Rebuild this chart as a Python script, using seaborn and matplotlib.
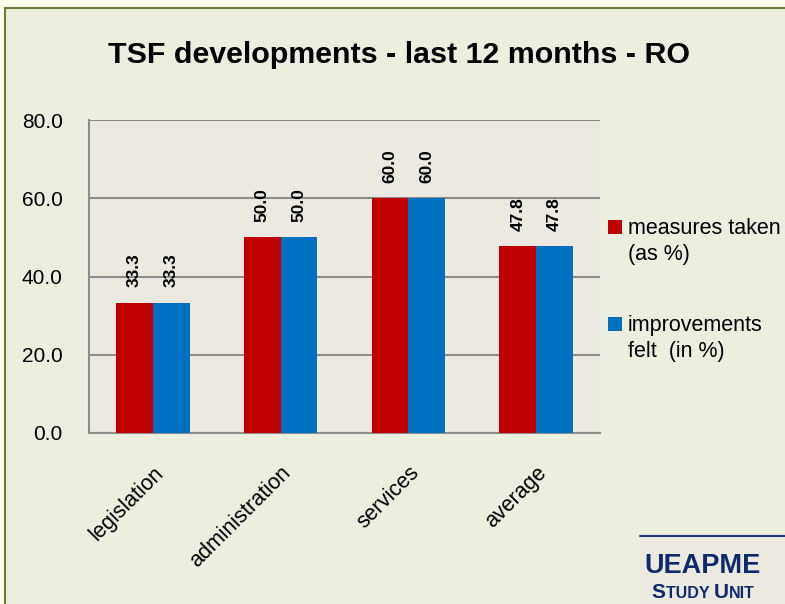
import matplotlib
matplotlib.use("Agg")
import matplotlib.pyplot as plt
import matplotlib.patches as mpatches
import pandas as pd
import seaborn as sns

categories = ["legislation", "administration", "services", "average"]
measures_taken = [33.3, 50.0, 60.0, 47.8]
improvements_felt = [33.3, 50.0, 60.0, 47.8]
series_names = ["measures taken\n(as %)", "improvements\nfelt  (in %)"]
series_colors = ["#C00000", "#0070C0"]
y_ticks = [0, 20, 40, 60, 80]

df = pd.DataFrame({
    "category": categories * 2,
    "value": measures_taken + improvements_felt,
    "series": [series_names[0]] * 4 + [series_names[1]] * 4,
})

sns.set_style("white")
plt.rcParams["font.family"] = ["Liberation Sans Narrow", "Liberation Sans", "DejaVu Sans"]
plt.rcParams["text.color"] = "black"
plt.rcParams["xtick.color"] = "black"
plt.rcParams["ytick.color"] = "black"

W, H = 785, 604


def fx(px):
    return px / W


def fy(py):
    return 1 - py / H


fig = plt.figure(figsize=(7.85, 6.04), dpi=100)
fig.patch.set_facecolor("#FFFFF0")
# inner panel with olive border
fig.patches.append(mpatches.Rectangle((fx(5), -0.01), 1.0, fy(8) + 0.01,
                                      transform=fig.transFigure, facecolor="#ECEFE0",
                                      edgecolor="#6B7F3A", lw=1.5, zorder=-2))
# logo box
fig.patches.append(mpatches.Rectangle((fx(640), 0), fx(145), fy(536),
                                      transform=fig.transFigure, facecolor="#ECEAE0",
                                      edgecolor="none", zorder=-1))
fig.add_artist(plt.Line2D([fx(640), 1], [fy(536), fy(536)], transform=fig.transFigure,
                          color="#1F3A7A", lw=1.5))
logo_font = ["Liberation Sans", "DejaVu Sans"]
logo_col = "#0E2A6B"
fig.text(fx(703), fy(573), "UEAPME", ha="center", va="baseline", fontsize=19.5,
         fontweight="bold", color=logo_col, family=logo_font)

# small-caps "STUDY UNIT"
renderer = fig.canvas.get_renderer()
pieces = [("S", 15), ("TUDY ", 11.5), ("U", 15), ("NIT", 11.5)]
texts = []
for s, size in pieces:
    t = fig.text(0, fy(598), s, ha="left", va="baseline", fontsize=size,
                 fontweight="bold", color=logo_col, family=logo_font)
    texts.append(t)
widths = [t.get_window_extent(renderer).width for t in texts]
x = 703 - sum(widths) / 2
for t, w in zip(texts, widths):
    t.set_x(fx(x))
    x += w

ax = fig.add_axes([fx(89), fy(433), fx(600 - 89), (433 - 120) / H])
ax.set_zorder(1)
ax.set_facecolor("#ECEAE0")
sns.barplot(data=df, x="category", y="value", hue="series", palette=series_colors,
            width=0.575, gap=0, saturation=1, linewidth=0, ax=ax, legend=False, zorder=3)

for cont in ax.containers:
    ax.bar_label(cont, fmt="%.1f", rotation=90, padding=11, fontsize=12.5,
                 fontweight="bold", color="black")

ax.set_ylim(0, 80)
ax.set_yticks(y_ticks)
ax.set_yticklabels([f"{v:.1f}" for v in y_ticks], fontsize=15)
ax.yaxis.set_tick_params(pad=19, length=0)
ax.grid(True, axis="y", color="#8C8C8C", lw=1.5, zorder=0)
ax.set_axisbelow(True)
ax.set_xlabel("")
ax.set_ylabel("")
ax.set_xticks(range(len(categories)))
ax.set_xticklabels(categories, rotation=45, ha="right", rotation_mode="anchor", fontsize=15.5)
ax.xaxis.set_tick_params(length=0, pad=21)
for side in ["top", "right"]:
    ax.spines[side].set_visible(False)
for side in ["left", "bottom"]:
    ax.spines[side].set_color("#8C8C8C")
    ax.spines[side].set_linewidth(1.5)

fig.text(fx(399), fy(63), "TSF developments - last 12 months - RO", ha="center",
         va="baseline", fontsize=21.9, fontweight="bold")

# legend, marker aligned with first text line
legend_tops = [218, 315]
for name, color, top in zip(series_names, series_colors, legend_tops):
    fig.patches.append(mpatches.Rectangle((fx(608), fy(top + 16)), fx(14), 14 / H,
                                          transform=fig.transFigure, facecolor=color,
                                          edgecolor="none"))
    fig.text(fx(628), fy(top), name, ha="left", va="top", fontsize=15.5, linespacing=1.3)

fig.savefig("out.png", dpi=100, facecolor=fig.get_facecolor())
